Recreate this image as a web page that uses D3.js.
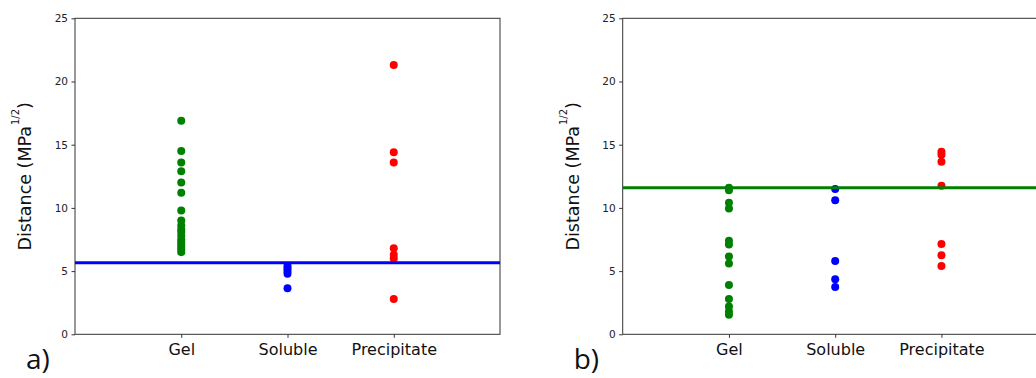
<!DOCTYPE html>
<html>
<head>
<meta charset="utf-8">
<script src="https://cdn.jsdelivr.net/npm/d3@7"></script>
<style>
  body { margin: 0; background: #fff; }
  svg { display: block; }
</style>
</head>
<body>
<script>
// data
const categories = ["Gel", "Soluble", "Precipitate"];
const yTicks = [0, 5, 10, 15, 20, 25];
const seriesColors = ["#008000", "#0000ff", "#ff0000"];

// panel a)
const gelA = [16.9, 14.5, 13.6, 12.9, 12.0, 11.2, 9.8, 9.0, 8.6, 8.3, 8.1, 7.8, 7.5, 7.3, 7.1, 6.9, 6.7, 6.5];
const solubleA = [5.4, 5.2, 5.0, 4.8, 3.65];
const precipitateA = [21.3, 14.4, 13.6, 6.8, 6.3, 6.0, 2.8];
const cutoffA = 5.66;

// panel b)
const gelB = [11.6, 11.4, 10.4, 9.95, 7.4, 7.1, 6.15, 5.6, 3.9, 2.8, 2.2, 1.8, 1.55];
const solubleB = [11.5, 10.6, 5.8, 4.35, 3.75];
const precipitateB = [14.45, 14.2, 13.65, 11.75, 7.15, 6.25, 5.4];
const cutoffB = 11.6;

const W = 1036, H = 378;
const svg = d3.select("body").append("svg")
              .attr("width", W)
              .attr("height", H);

svg.append("rect").attr("width", W).attr("height", H).attr("fill", "#fff");

const plotW = 425, plotH = 316, plotTop = 18.3;

function drawPanel(left, series, cutoff, cutoffColor, letter) {
  const x = d3.scaleLinear().domain([0, 4]).range([0, plotW]),
        y = d3.scaleLinear().domain([0, 25]).range([plotH, 0]);

  const g = svg.append("g").attr("transform", "translate(" + left + "," + plotTop + ")");

  // y axis
  const yAxis = g.append("g")
                 .call(d3.axisLeft(y).tickValues(yTicks).tickSize(3.5).tickPadding(3.5));
  yAxis.select(".domain").remove();
  yAxis.selectAll("text")
       .attr("font-family", "DejaVu Sans")
       .attr("font-size", 10.5)
       .attr("fill", "#222");
  yAxis.selectAll("line").attr("stroke", "#333");

  // x axis
  const xAxis = g.append("g")
                 .attr("transform", "translate(0," + plotH + ")")
                 .call(d3.axisBottom(x).tickValues([1, 2, 3])
                         .tickFormat(d => categories[d - 1])
                         .tickSize(3.5).tickPadding(6));
  xAxis.select(".domain").remove();
  xAxis.selectAll("text")
       .attr("font-family", "DejaVu Sans")
       .attr("font-size", 16)
       .attr("fill", "#111");
  xAxis.selectAll("line").attr("stroke", "#333");

  // frame
  g.append("rect")
   .attr("width", plotW)
   .attr("height", plotH)
   .attr("fill", "none")
   .attr("stroke", "#333")
   .attr("stroke-width", 1);

  // dots
  series.forEach((vals, i) => {
    g.append("g").selectAll("circle")
     .data(vals)
     .join("circle")
     .attr("cx", x(i + 1))
     .attr("cy", d => y(d))
     .attr("r", 4)
     .attr("fill", seriesColors[i]);
  });

  // horizontal cut-off line
  g.append("line")
   .attr("x1", 0)
   .attr("x2", plotW)
   .attr("y1", y(cutoff))
   .attr("y2", y(cutoff))
   .attr("stroke", cutoffColor)
   .attr("stroke-width", 3);

  // y label with superscript
  const lab = g.append("text")
               .attr("transform", "translate(" + (-44) + "," + (plotH / 2) + ") rotate(-90)")
               .attr("text-anchor", "middle")
               .attr("font-family", "DejaVu Sans")
               .attr("font-size", 17.5)
               .attr("fill", "#111");
  lab.append("tspan").text("Distance (MPa");
  lab.append("tspan").attr("font-size", 10).attr("dy", -12).attr("dx", 1).text("1/2");
  lab.append("tspan").attr("dy", 12).text(")");

  // panel letter
  svg.append("text")
     .attr("x", left - 49)
     .attr("y", 369)
     .attr("font-family", "Open Sans")
     .attr("font-size", 28)
     .attr("fill", "#111")
     .text(letter);
}

drawPanel(75, [gelA, solubleA, precipitateA], cutoffA, "#0000ff", "a)");
drawPanel(622.7, [gelB, solubleB, precipitateB], cutoffB, "#008000", "b)");
</script>
</body>
</html>
